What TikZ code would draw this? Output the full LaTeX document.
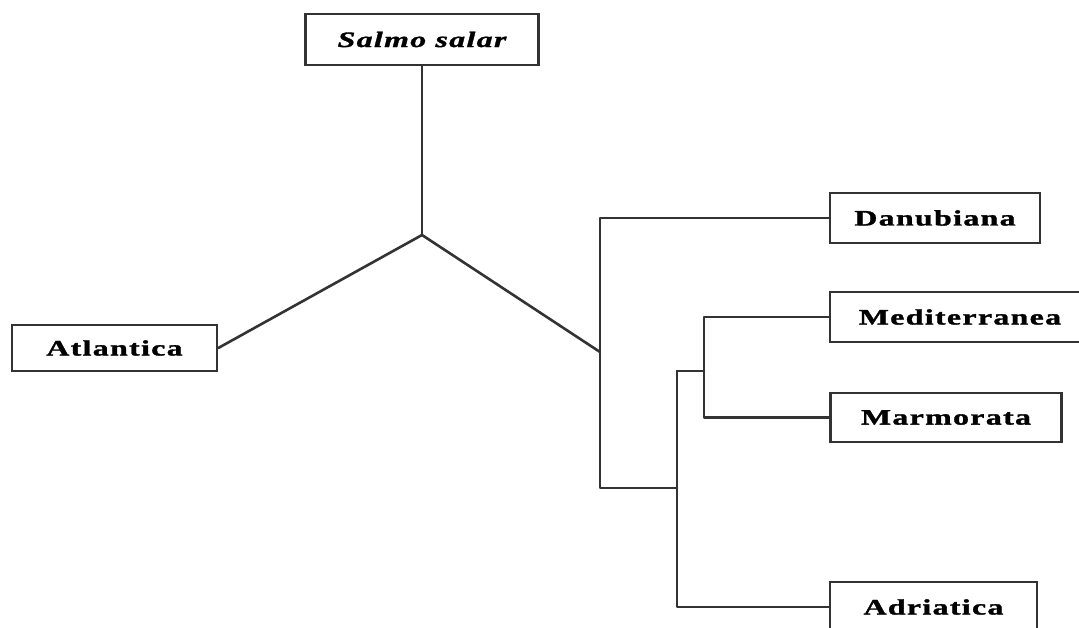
\documentclass[tikz,border=0pt]{standalone}
\usepackage{fontspec}
\newfontfamily\labfont[FakeStretch=1.45,LetterSpace=6,FakeBold=1.5]{Liberation Serif}
\begin{document}
\begin{tikzpicture}[x=1pt,y=-1pt,
  taxon/.style={draw=black!80,line width=2.6pt,fill=white,inner sep=0pt,
    font=\labfont\bfseries\fontsize{22}{24}\selectfont},
  branch/.style={draw=black!80,line width=2.6pt,line cap=round,line join=round}]
\useasboundingbox (0,0) rectangle (1079,628);
\node[taxon,minimum width=233pt,minimum height=51pt] (salmo) at (422,39.5) {\itshape Salmo salar};
\node[taxon,minimum width=205pt,minimum height=46pt] (atl) at (114.5,348) {Atlantica};
\node[taxon,minimum width=210pt,minimum height=50pt] (danu) at (935,218) {Danubiana};
\node[taxon,minimum width=260pt,minimum height=50pt] (medi) at (960,317) {Mediterranea};
\node[taxon,minimum width=231pt,minimum height=49pt] (marm) at (946,417.5) {Marmorata};
\node[taxon,minimum width=207pt,minimum height=50pt] (adri) at (933.5,607) {Adriatica};
\coordinate (j1) at (422,235);
\coordinate (c1) at (600,352);
\coordinate (c2b) at (600,488);
\coordinate (c2) at (677,488);
\coordinate (c3) at (677,371);
\coordinate (c4) at (704,371);
\draw[branch] (salmo.south) -- (j1);
\draw[branch] (j1) -- (atl.east);
\draw[branch] (j1) -- (c1);
\draw[branch] (danu.west) -| (c2b) -- (c2);
\draw[branch] (c2) -- (c3) |- (adri.west);
\draw[branch] (c3) -- (c4);
\draw[branch] (medi.west) -| (c4) |- (marm.west);
\end{tikzpicture}
\end{document}
